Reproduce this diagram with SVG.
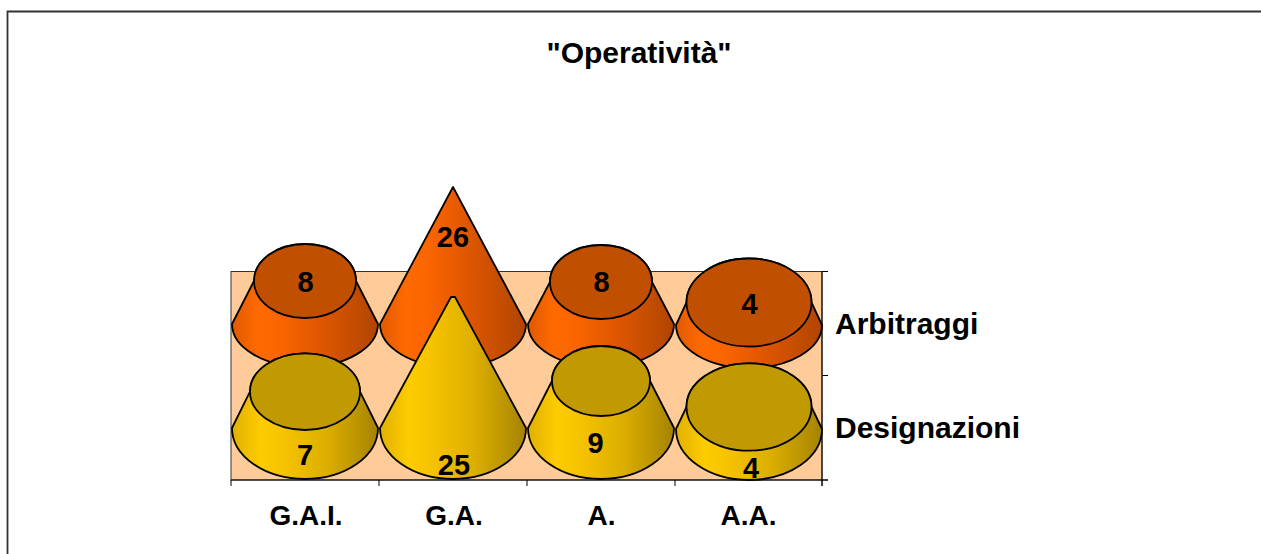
<svg xmlns="http://www.w3.org/2000/svg" width="1261" height="554" viewBox="0 0 1261 554">
  <style>
    text { font-family: "Liberation Sans", Arial, sans-serif; font-weight: bold; fill: #000; }
    .title { font-size: 30px; text-anchor: middle; }
    .cat { font-size: 28px; text-anchor: middle; }
    .series { font-size: 30px; }
    .val { font-size: 29px; text-anchor: middle; }
    .edge { stroke: #000; stroke-width: 1.8; stroke-linejoin: round; }
    .oside { fill: url(#gOrange); }
    .otop { fill: #C04F00; }
    .yside { fill: url(#gYellow); }
    .ytop { fill: #C09A00; }
    .axis { stroke: #000; stroke-width: 1; fill: none; }
  </style>
  <defs>
    <linearGradient id="gOrange" x1="0" y1="0" x2="1" y2="0">
      <stop offset="0" stop-color="#E05A00"/>
      <stop offset="0.18" stop-color="#FF6A00"/>
      <stop offset="0.35" stop-color="#F86400"/>
      <stop offset="0.6" stop-color="#E05600"/>
      <stop offset="0.85" stop-color="#C24C00"/>
      <stop offset="1" stop-color="#B04400"/>
    </linearGradient>
    <linearGradient id="gYellow" x1="0" y1="0" x2="1" y2="0">
      <stop offset="0" stop-color="#E0B000"/>
      <stop offset="0.2" stop-color="#FFCC00"/>
      <stop offset="0.4" stop-color="#F2C000"/>
      <stop offset="0.65" stop-color="#DCAE00"/>
      <stop offset="0.88" stop-color="#B89200"/>
      <stop offset="1" stop-color="#A48200"/>
    </linearGradient>
  </defs>

  <rect width="1261" height="554" fill="#FFFFFF"/>
  <path d="M7.5 554 V11.5 H1261" fill="none" stroke="#333" stroke-width="1.8"/>

  <text class="title" x="639" y="63">"Operatività"</text>

  <g id="plot-area">
    <rect x="231" y="271.5" width="591" height="208.5" fill="#FFCC99" stroke="#333" stroke-width="1"/>
  </g>

  <g id="axes">
    <path class="axis" d="M231 480 H828 M822 271.5 V486"/>
    <path class="axis" d="M231 480 V486 M379 480 V486 M527 480 V486 M675 480 V486 M822 480 V486"/>
    <path class="axis" d="M822 271.5 H828 M822 375.5 H828 M822 480 H828"/>
  </g>

  <g id="arbitraggi-gai">
    <path class="oside edge" d="M232 324 A73 43 0 0 0 378 324 L356 281 A51 37 0 0 0 254 281 Z"/>
    <ellipse class="otop edge" cx="305" cy="281" rx="51" ry="37"/>
  </g>
  <g id="arbitraggi-ga">
    <path class="oside edge" d="M380 324 A73 43 0 0 0 526 324 L453 187 Z"/>
  </g>
  <g id="arbitraggi-a">
    <path class="oside edge" d="M528 324 A73 43 0 0 0 674 324 L652 282 A51 37 0 0 0 550 282 Z"/>
    <ellipse class="otop edge" cx="601" cy="282" rx="51" ry="37"/>
  </g>
  <g id="arbitraggi-aa">
    <path class="oside edge" d="M676 325 A73 43 0 0 0 822 325 L811.5 302.5 A62.5 44 0 0 0 686.5 302.5 Z"/>
    <ellipse class="otop edge" cx="749" cy="302.5" rx="62.5" ry="44"/>
  </g>

  <g id="designazioni-gai">
    <path class="yside edge" d="M232 428 A73 51 0 0 0 378 428 L360 391.7 A55 38.3 0 0 0 250 391.7 Z"/>
    <ellipse class="ytop edge" cx="305" cy="391.7" rx="55" ry="38.3"/>
  </g>
  <g id="designazioni-ga">
    <path class="yside edge" d="M380 428 A73 51 0 0 0 526 428 L455 297 L451 297 Z"/>
  </g>
  <g id="designazioni-a">
    <path class="yside edge" d="M528 428 A73 51 0 0 0 674 428 L650 381 A49 35 0 0 0 552 381 Z"/>
    <ellipse class="ytop edge" cx="601" cy="381" rx="49" ry="35"/>
  </g>
  <g id="designazioni-aa">
    <path class="yside edge" d="M676 429 A73 51 0 0 0 822 429 L811.5 407 A62.5 43.7 0 0 0 686.5 407 Z"/>
    <ellipse class="ytop edge" cx="749" cy="407" rx="62.5" ry="43.7"/>
  </g>

  <g id="data-labels">
    <text class="val" x="305.5" y="292">8</text>
    <text class="val" x="453" y="247">26</text>
    <text class="val" x="601.5" y="292">8</text>
    <text class="val" x="749.5" y="313.5">4</text>
    <text class="val" x="305" y="465">7</text>
    <text class="val" x="454" y="475">25</text>
    <text class="val" x="595.5" y="453">9</text>
    <text class="val" x="751" y="478">4</text>
  </g>

  <g id="category-labels">
    <text class="cat" x="306" y="525">G.A.I.</text>
    <text class="cat" x="454" y="525">G.A.</text>
    <text class="cat" x="601.5" y="525">A.</text>
    <text class="cat" x="748.5" y="525">A.A.</text>
  </g>

  <g id="series-labels">
    <text class="series" x="835" y="334">Arbitraggi</text>
    <text class="series" x="835" y="438">Designazioni</text>
  </g>
</svg>
